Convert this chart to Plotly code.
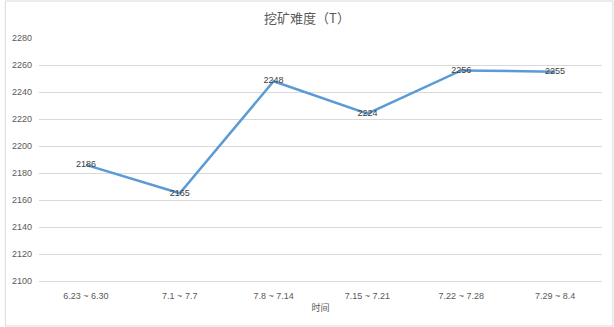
import plotly.graph_objects as go

categories = ["6.23 ~ 6.30", "7.1 ~ 7.7", "7.8 ~ 7.14", "7.15 ~ 7.21", "7.22 ~ 7.28", "7.29 ~ 8.4"]
difficulty = [2186, 2165, 2248, 2224, 2256, 2255]
y_ticks = [2100, 2120, 2140, 2160, 2180, 2200, 2220, 2240, 2260, 2280]

fig = go.Figure()
fig.add_trace(go.Scatter(
    x=categories, y=difficulty, mode="lines+text",
    text=[str(v) for v in difficulty], textposition="middle center",
    textfont=dict(size=9, color="#404040", family="Liberation Sans, Arial"),
    line=dict(color="#5B9BD5", width=2.5),
    cliponaxis=False, hoverinfo="skip",
))

fig.update_layout(
    width=614, height=327,
    margin=dict(l=34, r=12, t=38, b=46),
    paper_bgcolor="white", plot_bgcolor="white",
    showlegend=False,
    title=dict(text="挖矿难度（T）", x=0.5, xanchor="center", y=0.945, yanchor="middle",
               font=dict(size=13, color="#595959", family="Noto Sans CJK SC")),
    font=dict(family="Liberation Sans, Arial", size=9, color="#595959"),
    xaxis=dict(
        type="category", range=[-0.5, 5.5], showgrid=False, showline=True, linecolor="#D9D9D9", linewidth=1,
        ticks="", tickfont=dict(size=9, color="#595959"), zeroline=False, ticklabelstandoff=6,
        title=dict(text="时间", font=dict(size=9, color="#595959", family="Noto Sans CJK SC"), standoff=4),
    ),
    yaxis=dict(
        range=[2100, 2280], tickvals=y_ticks, showgrid=True, gridcolor="#D9D9D9", gridwidth=1,
        zeroline=False, showline=False, ticks="", tickfont=dict(size=9, color="#595959"),
        ticklabelstandoff=6,
    ),
    shapes=[dict(type="rect", xref="paper", yref="paper", x0=-34/568, x1=(568+11)/568,
                 y0=-45/243, y1=(243+37)/243, line=dict(color="#D9D9D9", width=1))],
)

fig.write_html("out.html")
